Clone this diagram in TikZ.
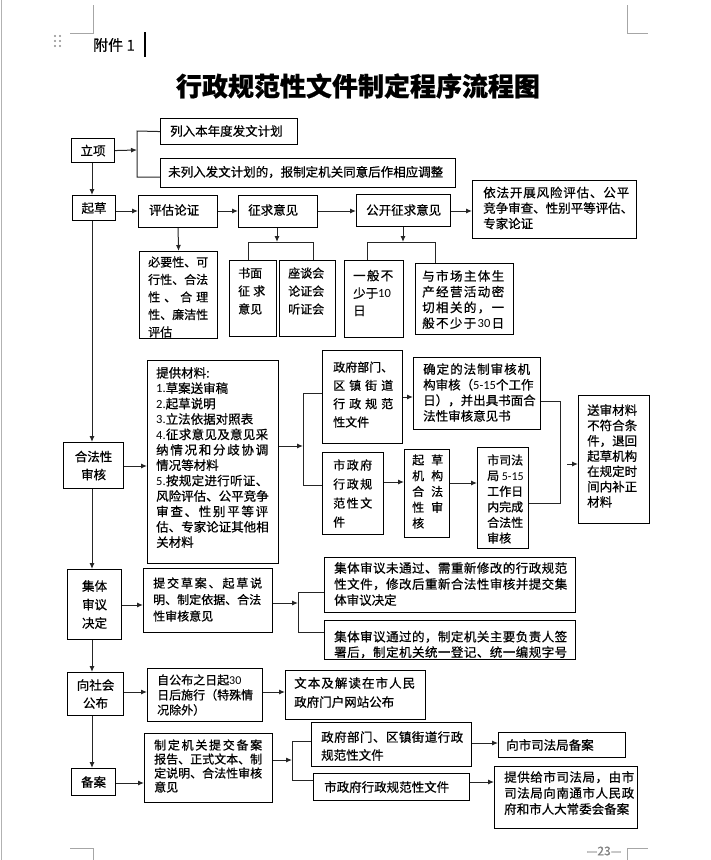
\documentclass[tikz,border=0pt]{standalone}
\usepackage{fontspec}
\setmainfont{Noto Sans CJK SC}[RawFeature={embolden=0.6}]
\newfontfamily\latinf{Carlito}
\usetikzlibrary{arrows.meta}
\newcommand\fs[2]{\fontsize{#1}{#2}\selectfont}
\newcommand\dg[1]{{\latinf #1}}
\makeatletter
\newcommand\spr[2]{\makebox[#1pt][s]{\spr@a#2\relax}}
\def\spr@a#1{#1\spr@b}
\def\spr@b#1{\ifx\relax#1\else\hfil{#1}\expandafter\spr@b\fi}
\makeatother
\tikzset{
 box/.style={draw=black, line width=1.1pt, inner sep=0pt, fill=white},
 txt/.style={inner sep=0pt, align=left, text=black},
 arr/.style={draw=black!85, line width=1pt, -{Latex[length=6pt,width=5pt]}},
 ln/.style={draw=black!85, line width=1pt},
 crop/.style={draw=black!35, line width=0.8pt}
}
% optional font, name, x1, y1, x2, y2, text x, text y, text
\newcommand\bx[9][\fs{12.5}{15.5}]{%
 \node[box, minimum width={(#5-#3)*1pt}, minimum height={(#6-#4)*1pt}, anchor=north west] (#2) at (#3,#4) {};
 \node[txt, font=#1, anchor=west] (#2-t) at (#7,#8) {#9};}
\newcommand\cbx[7][\fs{12.5}{18}]{%
 \node[box, minimum width={(#5-#3)*1pt}, minimum height={(#6-#4)*1pt}, anchor=north west] (#2) at (#3,#4) {};
 \node[txt, font=#1, align=center] (#2-t) at (#2.center) {#7};}
\begin{document}
\begin{tikzpicture}[x=1pt,y=-1pt]
\useasboundingbox (0,0) rectangle (711,860);
% page decorations
\draw[draw=black!30, line width=0.8pt] (1.5,0) -- (1.5,860);
\draw[crop] (70,33) -- (93,33) -- (93,5);
\draw[crop] (627,5) -- (627,33) -- (648,33);
\draw[crop] (70,848) -- (93,848) -- (93,860);
\draw[crop] (627,860) -- (627,848) -- (648,848);
\node[font=\fs{12}{14}, text=black!50, anchor=east] (pg) at (625,851) {—23—};
\foreach \i in {36,41,46} {\fill[black!45] (55,\i) circle (1.2pt); \fill[black!45] (60,\i) circle (1.2pt);}
\node[anchor=west, inner sep=0pt, font=\fs{15}{18}] (fujian) at (93,45) {附件 1};
\draw[line width=1.2pt] (145,32) -- (145,57);
\node[font=\fs{26}{30}\bfseries] (title) at (358,86) {行政规范性文件制定程序流程图};

% ---- 立项 ----
\cbx{lixiang}{71}{138}{114}{162}{立项}
\bx{A1}{160}{118}{297}{144}{170}{131}{列入本年度发文计划}
\bx{A2}{160}{158}{455}{187}{168}{172}{未列入发文计划的，报制定机关同意后作相应调整}
\coordinate (b1) at (137,150);
\coordinate (b1t) at (137,131);
\coordinate (b1b) at (137,177);
\draw[arr] (lixiang.east) -- (b1);
\draw[ln] (A1.west) -- (b1t) -- (b1b) -- (A2.west |- b1b);

% ---- 起草 ----
\cbx{qicao}{72}{195}{115}{220}{起草}
\bx{pinggu}{138}{195}{217}{227}{149}{210}{评估论证}
\bx{zhengqiu}{238}{195}{317}{227}{248}{210}{征求意见}
\bx{gongkai}{356}{194}{450}{226}{366}{210}{公开征求意见}
\bx{yifa}{472}{180}{636}{238}{483}{208}{\spr{146}{依法开展风险评估、公平}\\竞争审查、性别平等评估、\\专家论证}
\coordinate (vx) at (92,0);
\coordinate (y211) at (0,211);
\draw[arr] (lixiang.south -| vx) -- (qicao.north -| vx);
\draw[arr] (qicao.east |- y211) -- (pinggu.west |- y211);
\draw[arr] (pinggu.east |- y211) -- (zhengqiu.west |- y211);
\draw[arr] (zhengqiu.east |- y211) -- (gongkai.west |- y211);
\draw[arr] (gongkai.east |- y211) -- (yifa.west |- y211);

\bx[\fs{12}{17.5}]{biyao}{139}{251}{217}{338}{148}{297}{必要性、可\\行性、合法\\\spr{60}{性、合理}\\性、廉洁性\\评估}
\draw[arr] (pinggu.south) -- (biyao.north);

\bx[\fs{12}{18}]{shumian}{229}{260}{276}{336}{238}{291}{书面\\\spr{27}{征求}\\意见}
\bx[\fs{12}{18}]{zuotan}{279}{260}{335}{336}{288}{291}{座谈会\\论证会\\听证会}
\coordinate (b2) at (277,242);
\coordinate (b2l) at (248,242);
\coordinate (b2r) at (313,242);
\draw[arr] (zhengqiu.south -| b2) -- (b2);
\draw[ln] (b2l |- shumian.north) -- (b2l) -- (b2r) -- (b2r |- zuotan.north);

\bx[\fs{12.5}{17.5}]{yiban}{344}{260}{403}{337}{353}{293}{\spr{40}{一般不}\\少于\dg{10}\\日}
\bx[\fs{12.5}{15.7}]{yushichang}{415}{263}{513}{334}{422}{299.5}{\spr{82}{与市场主体生}\\\spr{82}{产经营活动密}\\\spr{82}{切相关的，一}\\\spr{82}{般不少于{\dg{30}}日}}
\coordinate (b3) at (403,242);
\coordinate (b3l) at (367,242);
\coordinate (b3r) at (435,242);
\draw[arr] (gongkai.south -| b3) -- (b3);
\draw[ln] (b3l |- yiban.north) -- (b3l) -- (b3r) -- (b3r |- yushichang.north);

% ---- 合法性审核 ----
\cbx{hefa}{63}{442}{123}{488}{合法性\\审核}
\draw[arr] (qicao.south -| vx) -- (hefa.north -| vx);
\bx[\fs{12.5}{15.4}]{tigong}{147}{360}{278}{563}{156}{457.5}{提供材料:\\\dg{1.}草案送审稿\\\dg{2.}起草说明\\\dg{3.}立法依据对照表\\\spr{112}{{\dg{4.}}征求意见及意见采}\\\spr{112}{纳情况和分歧协调}\\情况等材料\\\spr{112}{{\dg{5.}}按规定进行听证、}\\\spr{112}{风险评估、公平竞争}\\\spr{112}{审查、性别平等评}\\\spr{112}{估、专家论证其他相}\\关材料}
\coordinate (y466) at (0,466);
\draw[arr] (hefa.east |- y466) -- (tigong.west |- y466);

\bx[\fs{12}{18.3}]{zhengfu}{322}{350}{402}{443}{333}{394.5}{政府部门、\\\spr{60}{区镇街道}\\\spr{60}{行政规范}\\性文件}
\bx[\fs{12.5}{15.6}]{queding}{413}{357}{540}{429}{423}{392.5}{\spr{107}{确定的法制审核机}\\\spr{107}{构审核（{\dg{5-15}}个工作}\\\spr{110}{日），并出具书面合}\\法性审核意见书}
\bx[\fs{12}{19}]{shizhengfu}{322}{452}{383}{534}{333}{493.5}{\spr{39}{市政府}\\\spr{39}{行政规}\\\spr{39}{范性文}\\件}
\bx[\fs{12}{15.8}]{qicaojigou}{404}{449}{449}{537}{412}{491.5}{\spr{31}{起草}\\\spr{31}{机构}\\\spr{31}{合法}\\\spr{31}{性审}\\核}
\bx[\fs{12}{15.6}]{sisifa}{477}{447}{528}{548}{487}{499}{市司法\\局 \dg{5-15}\\工作日\\内完成\\合法性\\审核}
\bx[\fs{12.5}{15.3}]{songshen}{578}{395}{649}{523}{587}{456}{送审材料\\不符合条\\件，退回\\起草机构\\在规定时\\间内补正\\材料}

\coordinate (b4) at (303,446);
\coordinate (b4t) at (303,393);
\coordinate (b4b) at (303,485);
\draw[arr] (tigong.east |- b4) -- (b4);
\draw[ln] (zhengfu.west |- b4t) -- (b4t) -- (b4b) -- (shizhengfu.west |- b4b);
\coordinate (y397) at (0,397);
\coordinate (y482) at (0,482);
\coordinate (y483) at (0,483);
\draw[arr] (zhengfu.east |- y397) -- (queding.west |- y397);
\draw[arr] (shizhengfu.east |- y482) -- (qicaojigou.west |- y482);
\draw[arr] (qicaojigou.east |- y483) -- (sisifa.west |- y483);
\coordinate (b5t) at (560,401);
\coordinate (b5b) at (560,503);
\draw[ln] (queding.east |- b5t) -- (b5t) -- (b5b) -- (sisifa.east |- b5b);
\coordinate (a6) at (567,464);
\draw[arr] (a6) -- (songshen.west |- a6);

% ---- 集体审议决定 ----
\cbx[\fs{12.5}{18.5}]{jiti}{67}{569}{121}{639}{集体\\审议\\决定}
\draw[arr] (hefa.south -| vx) -- (jiti.north -| vx);
\bx[\fs{12}{16.5}]{tijiao}{143}{568}{272}{632}{153}{599.5}{\spr{109}{提交草案、起草说}\\明、制定依据、合法\\性审核意见}
\coordinate (y605) at (0,605);
\draw[arr] (jiti.east |- y605) -- (tijiao.west |- y605);
\bx[\fs{12.5}{16}]{weitongguo}{324}{557}{575}{612}{334}{584}{\spr{233}{集体审议未通过、需重新修改的行政规范}\\\spr{233}{性文件，修改后重新合法性审核并提交集}\\体审议决定}
\bx[\fs{12.5}{15.5}]{tongguo}{324}{620}{575}{659}{334}{644.5}{\spr{233}{集体审议通过的，制定机关主要负责人签}\\\spr{233}{署后，制定机关统一登记、统一编规字号}}
\coordinate (b6) at (298,603);
\coordinate (b6t) at (298,592);
\coordinate (b6b) at (298,632);
\draw[arr] (tijiao.east |- b6) -- (b6);
\draw[ln] (weitongguo.west |- b6t) -- (b6t) -- (b6b) -- (tongguo.west |- b6b);

% ---- 向社会公布 ----
\cbx{xiang}{67}{672}{123}{715}{向社会\\公布}
\draw[arr] (jiti.south -| vx) -- (xiang.north -| vx);
\bx[\fs{12}{15}]{zigongbu}{147}{668}{262}{721}{157}{695}{自公布之日起\dg{30}\\日后施行（特殊情\\况除外）}
\bx[\fs{12.5}{19}]{wenben}{285}{670}{425}{719}{294}{692.5}{\spr{121}{文本及解读在市人民}\\政府门户网站公布}
\coordinate (y692) at (0,692);
\draw[arr] (xiang.east |- y692) -- (zigongbu.west |- y692);
\draw[arr] (zigongbu.east |- y692) -- (wenben.west |- y692);

% ---- 备案 ----
\cbx{beian}{71}{768}{115}{795}{备案}
\draw[arr] (xiang.south -| vx) -- (beian.north -| vx);
\bx[\fs{12}{14}]{zhiding}{144}{733}{272}{802}{154}{766}{\spr{108}{制定机关提交备案}\\\spr{108}{报告、正式文本、制}\\\spr{108}{定说明、合法性审核}\\意见}
\coordinate (y783) at (0,783);
\draw[arr] (beian.east |- y783) -- (zhiding.west |- y783);
\bx[\fs{12.5}{18}]{zfbm2}{311}{722}{471}{766}{321}{746}{\spr{142}{政府部门、区镇街道行政}\\规范性文件}
\bx{szf2}{313}{773}{469}{800}{324}{787}{市政府行政规范性文件}
\coordinate (b7) at (292,760);
\coordinate (b7t) at (292,741);
\coordinate (b7b) at (292,780);
\draw[arr] (zhiding.east |- b7) -- (b7);
\draw[ln] (zfbm2.west |- b7t) -- (b7t) -- (b7b) -- (szf2.west |- b7b);
\bx{xiangshi}{498}{732}{625}{757}{506}{745}{向市司法局备案}
\bx[\fs{12.5}{16}]{tigonggei}{494}{766}{637}{828}{504}{793}{\spr{130}{提供给市司法局，由市}\\\spr{130}{司法局向南通市人民政}\\府和市人大常委会备案}
\coordinate (y743) at (0,743);
\coordinate (y782) at (0,782);
\draw[arr] (zfbm2.east |- y743) -- (xiangshi.west |- y743);
\draw[arr] (szf2.east |- y782) -- (tigonggei.west |- y782);
\end{tikzpicture}
\end{document}
